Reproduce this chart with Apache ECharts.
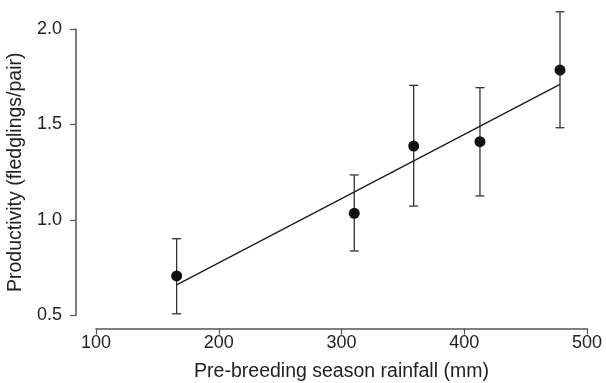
<!DOCTYPE html>
<html>
<head>
<meta charset="utf-8">
<script src="https://cdn.jsdelivr.net/npm/echarts@6/dist/echarts.min.js"></script>
<style>
  html, body { margin: 0; padding: 0; background: #fff; }
  #chart { width: 606px; height: 383px; }
</style>
</head>
<body>
<div id="chart"></div>
<script>
// rainfall (mm) and productivity (fledglings/pair)
var rainfall = [165.7, 310.4, 358.8, 412.8, 478];
var productivity = [0.707, 1.035, 1.387, 1.41, 1.785];
var errLow = [0.509, 0.838, 1.073, 1.126, 1.483];
var errHigh = [0.902, 1.236, 1.705, 1.693, 2.09];
// fitted regression line end points
var fitX = [165.7, 478];
var fitY = [0.66, 1.71];

var font = "'Liberation Sans', Arial, sans-serif";
var axisColor = "#555";
var textColor = "#222";

var errData = rainfall.map(function (x, i) {
  return [x, errLow[i], errHigh[i]];
});

var chart = echarts.init(document.getElementById("chart"));
chart.setOption({
  animation: false,
  grid: {
    left: 96, right: 19, top: 29, bottom: 67.5,
    containLabel: false,
    outerBoundsMode: "none",
  },
  xAxis: {
    type: "value",
    min: 100,
    max: 500,
    interval: 100,
    offset: 13,
    name: "Pre-breeding season rainfall (mm)",
    nameLocation: "middle",
    nameGap: 33,
    nameTextStyle: { fontSize: 19.5, color: textColor, fontFamily: font },
    axisLine: { show: true, lineStyle: { color: axisColor, width: 1.5 } },
    axisTick: { show: true, length: 6, lineStyle: { color: axisColor, width: 1.2 } },
    axisLabel: { fontSize: 18, color: textColor, fontFamily: font, margin: 6 },
    splitLine: { show: false },
  },
  yAxis: {
    type: "value",
    min: 0.5,
    max: 2.0,
    interval: 0.5,
    offset: 20,
    name: "Productivity (fledglings/pair)",
    nameLocation: "middle",
    nameGap: 48,
    nameTextStyle: { fontSize: 19.5, color: textColor, fontFamily: font },
    axisLine: { show: true, lineStyle: { color: axisColor, width: 1.5 } },
    axisTick: { show: true, length: 6, lineStyle: { color: axisColor, width: 1.2 } },
    axisLabel: {
      fontSize: 18,
      color: textColor,
      fontFamily: font,
      margin: 14,
      formatter: function (v) { return v.toFixed(1); },
    },
    splitLine: { show: false },
  },
  series: [
    {
      type: "custom",
      clip: false,
      data: errData,
      renderItem: function (params, api) {
        var lo = api.coord([api.value(0), api.value(1)]);
        var hi = api.coord([api.value(0), api.value(2)]);
        var cap = 4.5;
        var style = { stroke: "#333", lineWidth: 1.3 };
        return {
          type: "group",
          children: [
            { type: "line", shape: { x1: lo[0], y1: lo[1], x2: hi[0], y2: hi[1] }, style: style },
            { type: "line", shape: { x1: lo[0] - cap, y1: lo[1], x2: lo[0] + cap, y2: lo[1] }, style: style },
            { type: "line", shape: { x1: hi[0] - cap, y1: hi[1], x2: hi[0] + cap, y2: hi[1] }, style: style },
          ],
        };
      },
      z: 2,
    },
    {
      type: "line",
      data: fitX.map(function (x, i) { return [x, fitY[i]]; }),
      showSymbol: false,
      lineStyle: { color: "#1a1a1a", width: 1.3 },
      z: 3,
    },
    {
      type: "scatter",
      data: rainfall.map(function (x, i) { return [x, productivity[i]]; }),
      symbolSize: 11,
      itemStyle: { color: "#111", opacity: 1 },
      z: 4,
    },
  ],
});
</script>
</body>
</html>
